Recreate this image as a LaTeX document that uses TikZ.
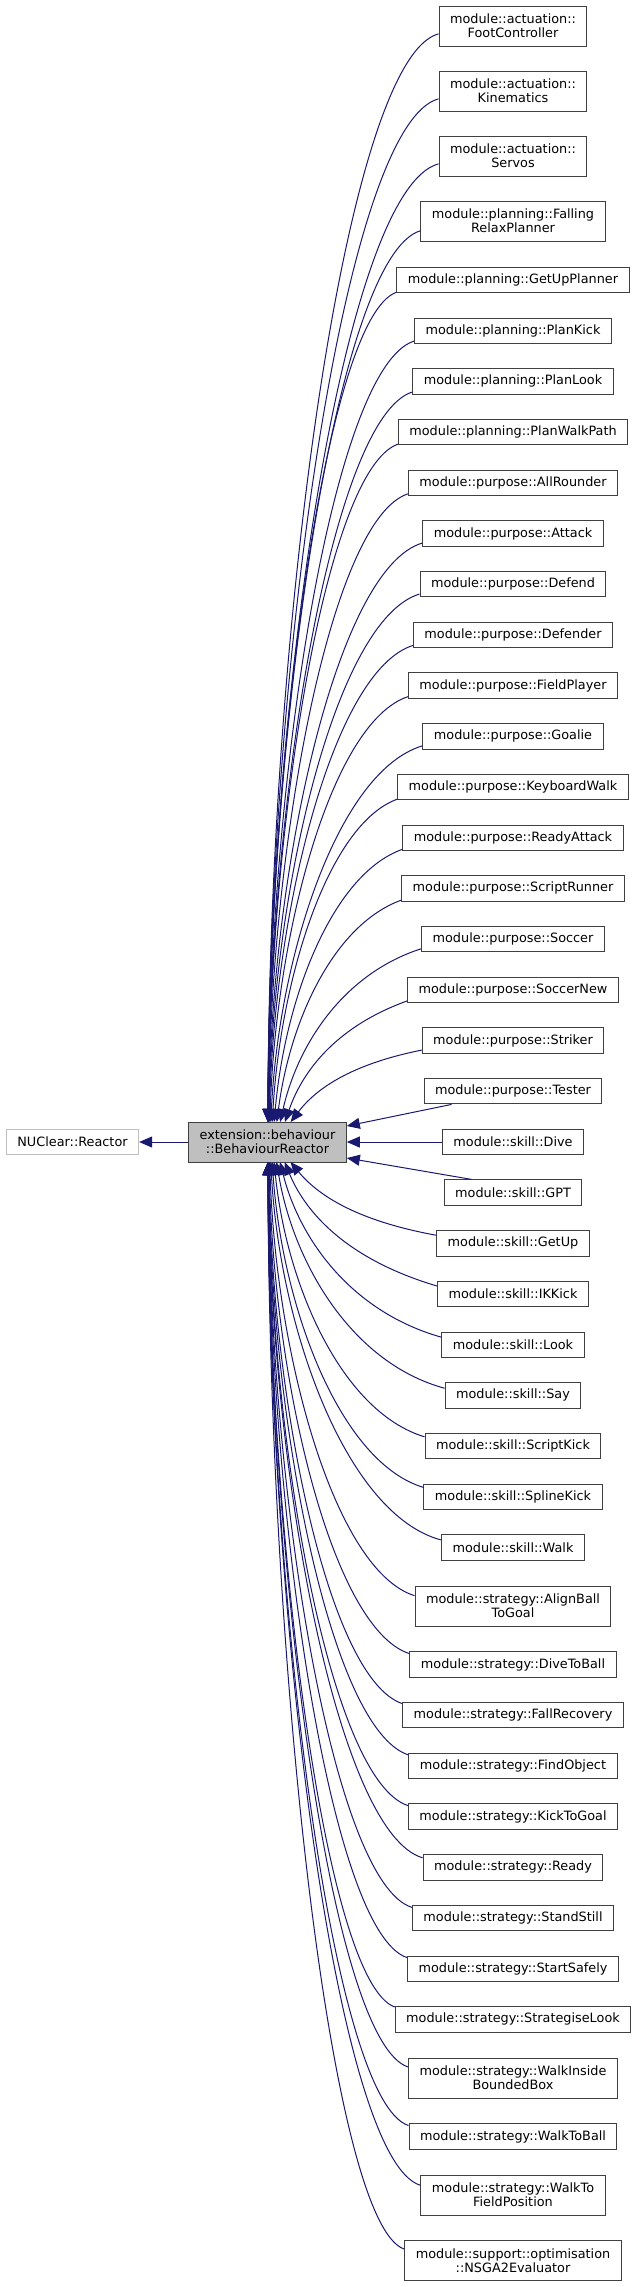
\documentclass[tikz,border=0pt]{standalone}
\usepackage{fontspec}
\setmainfont{DejaVu Sans}
\usetikzlibrary{arrows.meta,calc}
\definecolor{edgeblue}{RGB}{25,25,112}
\definecolor{boxline}{RGB}{64,64,64}
\definecolor{basefill}{RGB}{191,191,191}
\definecolor{extline}{RGB}{191,191,191}

\begin{document}
\begin{tikzpicture}[x=1pt, y=1pt,
    cls/.style={rectangle, draw=boxline, fill=white, line width=1pt,
                inner xsep=11pt, inner ysep=0pt, minimum height=25.4pt,
                align=center, font=\fontsize{12.83}{14}\selectfont},
    basecls/.style={cls, fill=basefill, minimum height=40pt},
    extcls/.style={cls, draw=extline},
    inherit/.style={-{Triangle[length=13pt, width=11pt]}, draw=edgeblue, line width=1pt}
  ]
  \fill[white] (0,0) rectangle (637,-2287);
  \useasboundingbox (0,0) rectangle (637,-2287);

  \node[basecls] (br) at (267.5,-1142) {extension::behaviour\\::BehaviourReactor};
  \node[extcls] (nr) at (72.5,-1142) {NUClear::Reactor};
  \draw[inherit] (br) -- (nr);

  % derived classes
  \foreach \id/\hh/\yy/\txt in {
      fc/40/26/module::actuation::\\FootController,
      kin/40/91/module::actuation::\\Kinematics,
      serv/40/156/module::actuation::\\Servos,
      frp/40/221/module::planning::Falling\\RelaxPlanner,
      gup/25.4/280/module::planning::GetUpPlanner,
      pkick/25.4/330.7/module::planning::PlanKick,
      plook/25.4/381.4/module::planning::PlanLook,
      pwalk/25.4/432.1/module::planning::PlanWalkPath,
      allr/25.4/482.8/module::purpose::AllRounder,
      att/25.4/533.5/module::purpose::Attack,
      def/25.4/584.2/module::purpose::Defend,
      defr/25.4/634.9/module::purpose::Defender,
      fp/25.4/685.6/module::purpose::FieldPlayer,
      goal/25.4/736.3/module::purpose::Goalie,
      kbw/25.4/787/module::purpose::KeyboardWalk,
      ratt/25.4/837.7/module::purpose::ReadyAttack,
      srun/25.4/888.4/module::purpose::ScriptRunner,
      socc/25.4/939.1/module::purpose::Soccer,
      soccn/25.4/989.8/module::purpose::SoccerNew,
      strk/25.4/1040.5/module::purpose::Striker,
      test/25.4/1091.2/module::purpose::Tester,
      dive/25.4/1142/module::skill::Dive,
      gpt/25.4/1192.6/module::skill::GPT,
      getup/25.4/1243.3/module::skill::GetUp,
      ikk/25.4/1294/module::skill::IKKick,
      look/25.4/1344.7/module::skill::Look,
      say/25.4/1395.4/module::skill::Say,
      skick/25.4/1446.1/module::skill::ScriptKick,
      splk/25.4/1496.8/module::skill::SplineKick,
      walk/25.4/1547.5/module::skill::Walk,
      abg/40/1606/module::strategy::AlignBall\\ToGoal,
      dtb/25.4/1664.5/module::strategy::DiveToBall,
      frec/25.4/1715.2/module::strategy::FallRecovery,
      fobj/25.4/1765.9/module::strategy::FindObject,
      ktg/25.4/1816.6/module::strategy::KickToGoal,
      rdy/25.4/1867.3/module::strategy::Ready,
      sst/25.4/1918/module::strategy::StandStill,
      ssafe/25.4/1968.7/module::strategy::StartSafely,
      slook/25.4/2019.4/module::strategy::StrategiseLook,
      wibb/40/2078/module::strategy::WalkInside\\BoundedBox,
      wtb/25.4/2136.5/module::strategy::WalkToBall,
      wtfp/40/2195/module::strategy::WalkTo\\FieldPosition,
      nsga/40/2260.5/module::support::optimisation\\::NSGA2Evaluator}{
    \node[cls, minimum height=\hh pt] (\id) at (513,-\yy) {\txt};
  }

  % edges into the top of the base class
  \foreach \id in {fc,kin,serv,frp,gup,pkick,plook,pwalk,allr,att,def,defr,fp,goal,kbw,ratt,srun,socc,soccn,strk}{
    \draw[inherit] let \p1=(\id.186), \n1={1122pt+\y1}, \n2={268pt+34pt*(1-\n1/1100pt)^6},
                       \n3={\x1-\n2}, \n4={exp(-\n1/250pt)} in
      (\p1) .. controls ({\x1-0.55*\n3},{\y1-0.2*min(\n1,125pt)})
               and ({\n2+0.25*\n3*\n4},{-1122pt+0.45*\n1}) .. ({\n2+0pt},{-1122pt});
  }

  % edges into the right side
  \draw[inherit] ($(test.south west)+(28,0)$) -- ($(br.east)+(0,16)$);
  \draw[inherit] (dive) -- (br);
  \draw[inherit] ($(gpt.north west)+(28,0)$) -- ($(br.east)+(0,-16)$);

  % edges into the bottom of the base class
  \foreach \id in {getup,ikk,look,say,skick,splk,walk,abg,dtb,frec,fobj,ktg,rdy,sst,ssafe,slook,wibb,wtb,wtfp,nsga}{
    \draw[inherit] let \p1=(\id.174), \n1={-1162pt-\y1}, \n2={268pt+34pt*(1-\n1/1100pt)^6},
                       \n3={\x1-\n2}, \n4={exp(-\n1/250pt)} in
      (\p1) .. controls ({\x1-0.55*\n3},{\y1+0.2*min(\n1,125pt)})
               and ({\n2+0.25*\n3*\n4},{-1162pt-0.45*\n1}) .. ({\n2+0pt},{-1162pt});
  }
\end{tikzpicture}
\end{document}
